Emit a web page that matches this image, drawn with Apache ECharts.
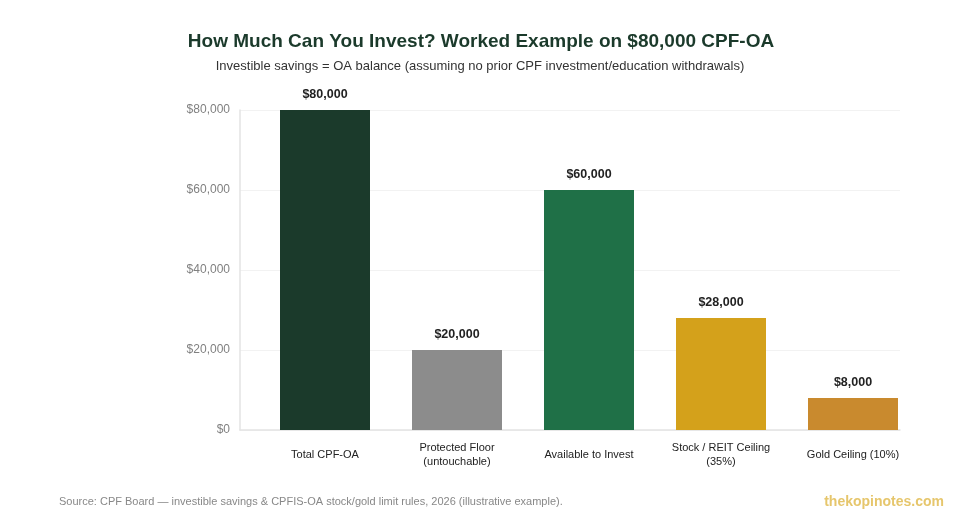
<!DOCTYPE html>
<html>
<head>
	<meta charset="utf-8" />
	<title>CPF-OA worked example</title>
	<style>
		* { padding: 0; margin: 0; }
		body { background: #fff; }
		#main { width: 960px; height: 520px; }
	</style>
</head>
<body>
	<div id="main"></div>
	<script src="https://cdn.jsdelivr.net/npm/echarts@6/dist/echarts.min.js"></script>
	<script type="text/javascript">
	// data
	var categories = ['Total CPF-OA', 'Protected Floor\n(untouchable)', 'Available to Invest', 'Stock / REIT Ceiling\n(35%)', 'Gold Ceiling (10%)'];
	var amounts = [80000, 20000, 60000, 28000, 8000];
	var barColors = ['#1b3a2b', '#8c8c8c', '#1f7047', '#d4a11b', '#c98a2e'];

	var chart = echarts.init(document.getElementById('main'));

	var fmtMoney = function (v) {
		return '$' + Number(v).toLocaleString('en-US');
	};

	var option = {
		animation: false,
		backgroundColor: '#fff',
		title: [
			{
				text: 'How Much Can You Invest? Worked Example on $80,000 CPF-OA',
				left: 476, top: 27, textAlign: 'center',
				textStyle: { fontFamily: 'Liberation Sans', fontSize: 19, fontWeight: 'bold', color: '#1b3a2b' }
			},
			{
				text: 'Investible savings = OA balance (assuming no prior CPF investment/education withdrawals)',
				left: 475, top: 55, textAlign: 'center',
				textStyle: { fontFamily: 'Liberation Sans', fontSize: 13, fontWeight: 'normal', color: '#333' }
			},
			{
				text: 'Source: CPF Board \u2014 investible savings & CPFIS-OA stock/gold limit rules, 2026 (illustrative example).',
				left: 54, top: 491,
				textStyle: { fontFamily: 'Liberation Sans', fontSize: 11, fontWeight: 'normal', color: '#888' }
			},
			{
				text: 'thekopinotes.com',
				right: 11, top: 490,
				textStyle: { fontFamily: 'Liberation Sans', fontSize: 14, fontWeight: 'bold', color: '#e6c66c' }
			}
		],
		grid: [
			// frame, y ticks and gridlines
			{ left: 240, right: 60, top: 110, bottom: 90 },
			// bars sit a little to the right of the frame
			{ left: 259, right: 41, top: 110, bottom: 90 }
		],
		xAxis: [
			{
				gridIndex: 0, type: 'value', min: 0, max: 1,
				axisLine: { show: true, lineStyle: { color: '#e3e3e3', width: 1.5 } },
				axisTick: { show: false }, axisLabel: { show: false }, splitLine: { show: false }
			},
			{
				gridIndex: 1, type: 'category', data: categories,
				axisLine: { show: false }, axisTick: { show: false },
				axisLabel: {
					color: '#222', fontSize: 11, fontFamily: 'Liberation Sans', margin: 25,
					lineHeight: 14, verticalAlign: 'middle', interval: 0
				}
			}
		],
		yAxis: [
			{
				gridIndex: 0, type: 'value', min: 0, max: 80000, interval: 20000,
				axisLine: { show: true, lineStyle: { color: '#e3e3e3', width: 1.5 } },
				axisTick: { show: false },
				axisLabel: { color: '#808080', fontSize: 12, fontFamily: 'Liberation Sans', margin: 10, formatter: fmtMoney },
				splitLine: { show: true, lineStyle: { color: '#f2f2f2', width: 1 } }
			},
			{
				gridIndex: 1, type: 'value', min: 0, max: 80000, interval: 20000, show: false,
				splitLine: { show: false }
			}
		],
		series: [
			{
				type: 'bar', xAxisIndex: 1, yAxisIndex: 1,
				barWidth: 90,
				data: amounts.map(function (v, i) {
					return { value: v, itemStyle: { color: barColors[i] } };
				}),
				label: {
					show: true, position: 'top', distance: 9,
					color: '#222', fontSize: 12.5, fontWeight: 'bold', fontFamily: 'Liberation Sans',
					formatter: function (p) { return fmtMoney(p.value); }
				}
			}
		]
	};
	chart.setOption(option);
	</script>
</body>
</html>
